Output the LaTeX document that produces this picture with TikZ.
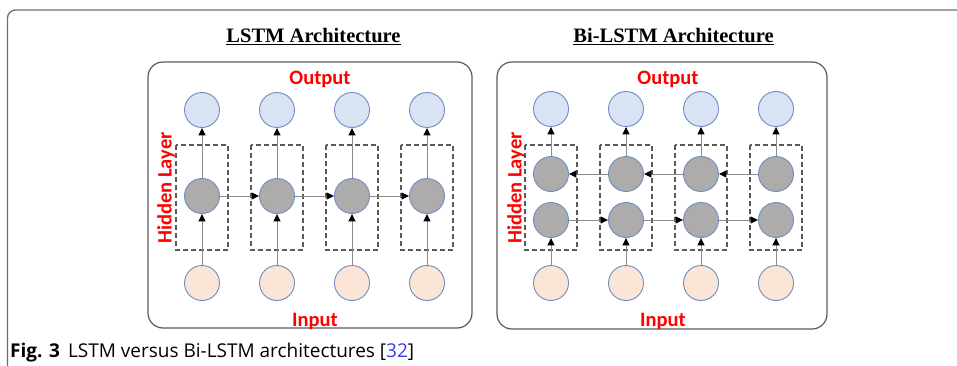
\documentclass[tikz,border=0pt]{standalone}
\usepackage{fontspec}
\setmainfont{Liberation Serif}
\newfontfamily\labelfont{Carlito}
\newfontfamily\capfont{Open Sans}
\usetikzlibrary{arrows.meta}
\definecolor{outfill}{HTML}{DAE3F3}
\definecolor{hidfill}{HTML}{AEABAB}
\definecolor{infill}{HTML}{FBE5D6}
\definecolor{cellrim}{HTML}{6C8CC2}
\definecolor{linkgray}{HTML}{8C8C8C}
\definecolor{boxgray}{HTML}{5A5A5A}
\definecolor{framegray}{HTML}{6E6E6E}
\definecolor{labelred}{HTML}{FF0000}
\definecolor{refblue}{HTML}{3A3AF0}
\tikzset{
  cell/.style={circle, draw=cellrim, line width=0.9pt, minimum size=35pt, inner sep=0pt},
  outcell/.style={cell, fill=outfill},
  hidcell/.style={cell, fill=hidfill},
  incell/.style={cell, fill=infill},
  link/.style={draw=linkgray, line width=1pt, -{Triangle[length=7.5pt,width=7pt,fill=black,color=black]}},
  cellbox/.style={draw=boxgray, line width=1.1pt, dash pattern=on 5pt off 3pt},
  panel/.style={draw=boxgray, line width=1.2pt, rounded corners=15pt},
  redlabel/.style={font=\labelfont\bfseries\fontsize{20.5}{22}\selectfont, text=labelred, inner sep=0pt},
  titletext/.style={font=\bfseries\fontsize{20.5}{22}\selectfont, inner sep=0pt, anchor=base},
}
\begin{document}
\begin{tikzpicture}[x=1pt, y=-1pt]
\useasboundingbox (0,0) rectangle (957,366);

% page frame: top rule and left rule with a rounded corner
\draw[framegray, line width=1.3pt, rounded corners=8pt] (957,10) -- (7.5,10) -- (7.5,366);

% ---------- LSTM panel ----------
\node[titletext] (t1) at (313.5,43) {\underline{LSTM Architecture}};
\draw[panel] (148,62) rectangle (472,328);
\node[redlabel, anchor=base] (o1) at (320,85) {Output};
\node[redlabel, anchor=base] (i1) at (315,326) {Input};
\node[redlabel, rotate=90] (h1) at (166,188) {Hidden Layer};

\foreach \k/\x in {1/202, 2/277, 3/352, 4/427} {
  \draw[cellbox] (\x-26,145) rectangle (\x+26,250);
  \node[outcell] (a\k) at (\x,110) {};
  \node[hidcell] (b\k) at (\x,196) {};
  \node[incell]  (c\k) at (\x,283) {};
  \draw[link] (c\k) -- (b\k);
  \draw[link] (b\k) -- (a\k);
}
\draw[link] (b1) -- (b2);
\draw[link] (b2) -- (b3);
\draw[link] (b3) -- (b4);

% ---------- Bi-LSTM panel ----------
\node[titletext] (t2) at (673.5,43) {\underline{Bi-LSTM Architecture}};
\draw[panel] (497,62) rectangle (827,329);
\node[redlabel, anchor=base] (o2) at (668,85) {Output};
\node[redlabel, anchor=base] (i2) at (663,326) {Input};
\node[redlabel, rotate=90] (h2) at (516,188) {Hidden Layer};

\foreach \k/\x in {1/551, 2/626, 3/701, 4/776} {
  \draw[cellbox] (\x-26,145) rectangle (\x+26,250);
  \node[outcell] (p\k) at (\x,109) {};
  \node[hidcell] (q\k) at (\x,174) {};
  \node[hidcell] (r\k) at (\x,220) {};
  \node[incell]  (s\k) at (\x,283) {};
  \draw[link] (s\k) -- (r\k);
  \draw[link] (q\k) -- (p\k);
}
% backward states
\draw[link] (q4) -- (q3);
\draw[link] (q3) -- (q2);
\draw[link] (q2) -- (q1);
% forward states
\draw[link] (r1) -- (r2);
\draw[link] (r2) -- (r3);
\draw[link] (r3) -- (r4);

% ---------- caption ----------
\node[anchor=base west, inner sep=0pt, font=\capfont\fontsize{19}{21}\selectfont] (cap) at (10,357)
  {\textbf{Fig. 3}\hspace{8pt}LSTM versus Bi-LSTM architectures [\textcolor{refblue}{32}]};
\end{tikzpicture}
\end{document}
